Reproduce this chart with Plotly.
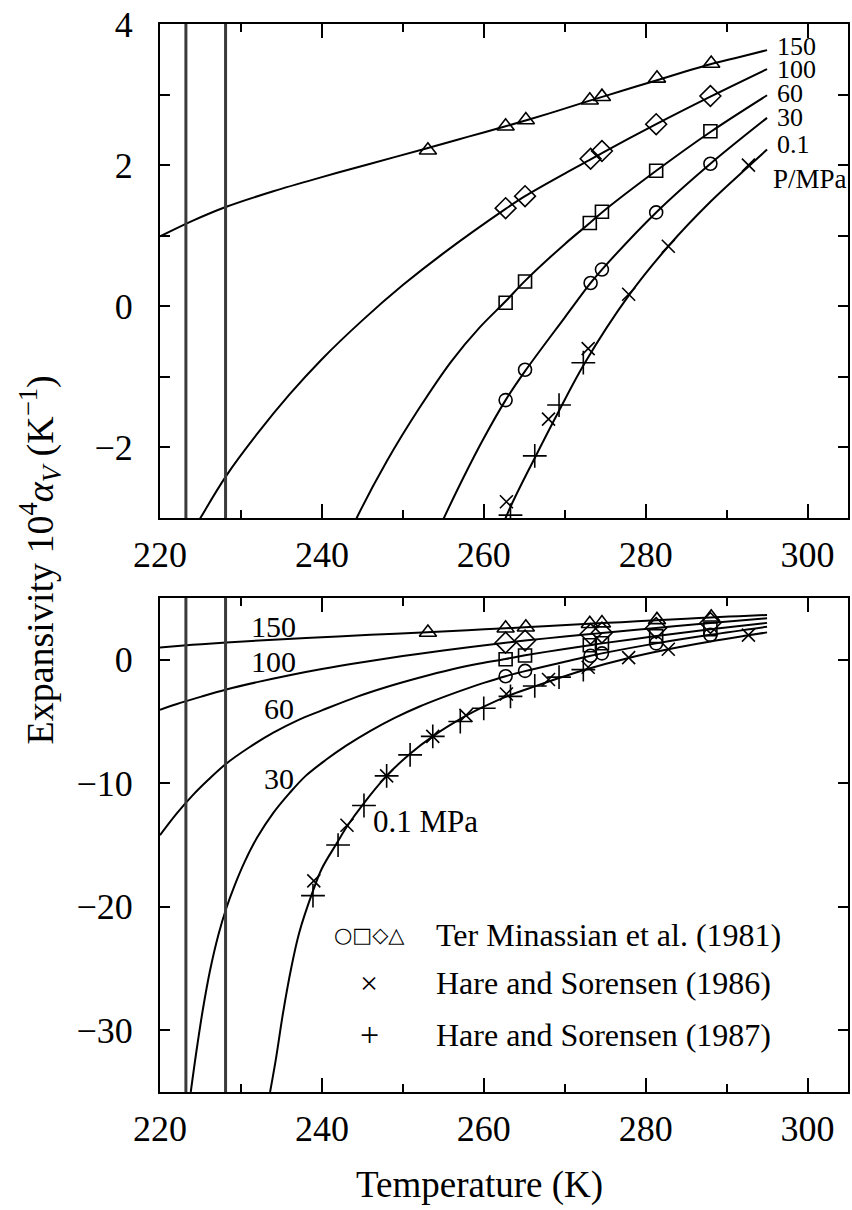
import plotly.graph_objects as go

# ---------------- data ----------------
# fitted curves, expansivity 1e4*alpha_V (1/K) vs temperature (K)
T150 = [220, 224, 228.2, 234, 240, 246, 253, 258, 262.7, 268, 273, 277, 281.3, 285, 288, 291.5, 295]
A150 = [0.99, 1.21, 1.41, 1.63, 1.83, 2.02, 2.24, 2.40, 2.55, 2.73, 2.91, 3.05, 3.20, 3.33, 3.43, 3.53, 3.63]

T100 = [220, 222, 225.1, 228.2, 232, 236, 240, 245, 250, 255, 262.7, 265.1, 270, 273.2, 274.6, 281.3, 288, 295]
A100 = [-4.05, -3.6, -2.98, -2.40, -1.81, -1.25, -0.75, -0.2, 0.3, 0.75, 1.38, 1.56, 1.88, 2.08, 2.17, 2.58, 2.97, 3.36]

T60 = [220, 222, 224, 226, 228.2, 231, 234, 237, 240, 244.3, 248, 252, 256, 259.5, 262.7, 265.1, 270, 273.1, 274.6, 281.3, 288, 295]
A60 = [-14.2, -12.5, -11.0, -9.7, -8.4, -7.1, -5.9, -4.9, -4.1, -3.0, -2.2, -1.45, -0.78, -0.3, 0.07, 0.36, 0.88, 1.18, 1.33, 1.92, 2.47, 2.99]

T30 = [223.8, 224.5, 225.3, 226.2, 227.2, 228.2, 229.2, 230.5, 232, 234, 236, 238, 240.5, 243, 246, 249, 252, 255, 258, 260, 262.7, 265.1, 270, 273.2, 274.6, 281.3, 288, 295]
A30 = [-35, -31.7, -28.3, -25.1, -22.3, -20.1, -18.3, -16.3, -14.4, -12.4, -10.8, -9.4, -8.1, -6.95, -5.75, -4.7, -3.8, -3.02, -2.31, -1.87, -1.33, -0.92, -0.16, 0.33, 0.52, 1.33, 2.02, 2.67]

T01 = [233.6, 234.3, 235.2, 236.2, 237.2, 238.8, 240, 241.8, 243.1, 245.2, 248, 250.9, 253.7, 257.5, 260, 263, 266.3, 269.3, 272.5, 277.9, 282.8, 288, 292.7, 295]
A01 = [-35, -32.4, -28.6, -25.0, -22.1, -18.9, -16.9, -14.9, -13.5, -11.6, -9.4, -7.6, -6.2, -4.65, -3.8, -2.92, -2.15, -1.48, -0.80, 0.15, 0.85, 1.48, 1.98, 2.22]

# Ter Minassian et al. (1981)
TM150_T = [253.1, 262.7, 265.2, 273.1, 274.6, 281.4, 288.1]
TM150_A = [2.21, 2.55, 2.64, 2.92, 2.97, 3.23, 3.44]
TM100_T = [262.7, 265.1, 273.2, 274.6, 281.3, 288.0]
TM100_A = [1.39, 1.56, 2.09, 2.20, 2.58, 2.98]
TM60_T = [262.7, 265.1, 273.1, 274.6, 281.3, 288.0]
TM60_A = [0.05, 0.35, 1.18, 1.34, 1.92, 2.48]
TM30_T = [262.7, 265.1, 273.2, 274.6, 281.3, 288.0]
TM30_A = [-1.33, -0.90, 0.33, 0.52, 1.33, 2.02]

# Hare and Sorensen (1986), 0.1 MPa
HS86_T = [239.0, 243.1, 248.0, 253.7, 257.8, 262.8, 268.0, 272.9, 277.9, 282.8, 292.7]
HS86_A = [-17.9, -13.4, -9.4, -6.2, -4.5, -2.77, -1.6, -0.6, 0.17, 0.85, 2.0]

# Hare and Sorensen (1987), 0.1 MPa
HS87_T = [238.9, 242.0, 245.2, 248.0, 250.9, 253.7, 257.1, 260.0, 263.3, 266.3, 269.3, 272.3]
HS87_A = [-19.1, -15.0, -11.8, -9.4, -7.7, -6.2, -5.0, -3.93, -2.96, -2.12, -1.40, -0.80]

# singular temperatures (vertical lines)
TS = [223.2, 228.1]

PRESSURE_LABELS = ["150", "100", "60", "30", "0.1"]

# ---------------- figure ----------------
SERIF = "Liberation Serif, Times New Roman, serif"
fig = go.Figure()

curves = [(T150, A150), (T100, A100), (T60, A60), (T30, A30), (T01, A01)]
markers = [
    (TM150_T, TM150_A, "triangle-up-open", 15),
    (TM100_T, TM100_A, "diamond-open", 16),
    (TM60_T, TM60_A, "square-open", 13),
    (TM30_T, TM30_A, "circle-open", 13),
    (HS86_T, HS86_A, "x-thin-open", 13),
    (HS87_T, HS87_A, "cross-thin-open", 17),
]

for xa, ya in (("x", "y"), ("x2", "y2")):
    for tx, ay in curves:
        fig.add_trace(go.Scatter(x=tx, y=ay, mode="lines", xaxis=xa, yaxis=ya,
                                 line=dict(color="black", width=2, shape="spline"),
                                 showlegend=False, hoverinfo="skip"))
    for tx, ay, sym, sz in markers:
        fig.add_trace(go.Scatter(x=tx, y=ay, mode="markers", xaxis=xa, yaxis=ya,
                                 marker=dict(symbol=sym, size=sz, color="black",
                                             line=dict(color="black", width=1.6)),
                                 showlegend=False))
    for t in TS:
        fig.add_shape(type="line", x0=t, x1=t, xref=xa, y0=0, y1=1,
                      yref=ya + " domain", line=dict(color="#3a3a3a", width=3), layer="above")

tickfont = dict(family=SERIF, size=36, color="black")
xcommon = dict(range=[220, 305], tick0=220, dtick=20, ticks="inside", ticklen=14, tickwidth=1.6,
               tickcolor="black", showline=True, linecolor="black", linewidth=2, mirror="allticks",
               showgrid=False, zeroline=False, tickfont=tickfont, ticklabelstandoff=4,
               minor=dict(dtick=10, ticks="inside", ticklen=8, tickwidth=1.6, tickcolor="black", showgrid=False))
ycommon = dict(ticks="inside", ticklen=10, tickwidth=1.6, tickcolor="black", showline=True,
               linecolor="black", linewidth=2, mirror="allticks", showgrid=False, zeroline=False,
               tickfont=tickfont, ticklabelstandoff=18)

fig.update_layout(
    width=852, height=1210,
    margin=dict(l=160, r=2, t=24, b=118),
    paper_bgcolor="white", plot_bgcolor="white",
    font=dict(family=SERIF, color="black"),
    xaxis=dict(domain=[0, 1], anchor="y", **xcommon),
    yaxis=dict(domain=[0.5375, 1], anchor="x", range=[-3, 4], tick0=0, dtick=2,
               minor=dict(dtick=1, ticks="inside", ticklen=10, tickwidth=1.6, tickcolor="black", showgrid=False),
               **ycommon),
    xaxis2=dict(domain=[0, 1], anchor="y2", **xcommon),
    yaxis2=dict(domain=[0, 0.4625], anchor="x2", range=[-35, 5], tick0=0, dtick=10, **ycommon),
)

ann = []
# pressure labels, top panel
top_lab_y = [3.68, 3.35, 3.01, 2.67, 2.29]
for lab, yv in zip(PRESSURE_LABELS, top_lab_y):
    ann.append(dict(x=296.0, y=yv, xref="x", yref="y", text=lab, showarrow=False,
                    xanchor="left", yanchor="middle", font=dict(family=SERIF, size=26)))
ann.append(dict(x=295.5, y=1.80, xref="x", yref="y", text="P/MPa", showarrow=False,
                xanchor="left", yanchor="middle", font=dict(family=SERIF, size=27)))
# pressure labels, bottom panel
bot_lab = [(234.0, 2.73), (234.0, -0.10), (234.7, -3.95), (234.7, -9.6)]
for lab, (xv, yv) in zip(PRESSURE_LABELS[:4], bot_lab):
    ann.append(dict(x=xv, y=yv, xref="x2", yref="y2", text=lab, showarrow=False,
                    xanchor="center", yanchor="middle", font=dict(family=SERIF, size=30)))
ann.append(dict(x=246.1, y=-13.1, xref="x2", yref="y2", text="0.1 MPa", showarrow=False,
                xanchor="left", yanchor="middle", font=dict(family=SERIF, size=31)))
# legend
leg_rows = [("○□◇△", "Ter Minassian et al. (1981)", 0.147, "DejaVu Sans", 21),
            ("×", "Hare and Sorensen (1986)", 0.102, SERIF, 32),
            ("+", "Hare and Sorensen (1987)", 0.0534, SERIF, 34)]
for sym, txt, yp, fam, fs in leg_rows:
    ann.append(dict(x=0.3043, y=yp, xref="paper", yref="paper", text=sym, showarrow=False,
                    xanchor="center", yanchor="middle", font=dict(family=fam, size=fs)))
    ann.append(dict(x=0.3986, y=yp, xref="paper", yref="paper", text=txt, showarrow=False,
                    xanchor="left", yanchor="middle", font=dict(family=SERIF, size=32)))
# axis titles
ann.append(dict(x=0.465, y=-0.0871, xref="paper", yref="paper", text="Temperature (K)",
                showarrow=False, xanchor="center", yanchor="middle", font=dict(family=SERIF, size=37)))
ann.append(dict(x=-0.1739, y=0.498, xref="paper", yref="paper",
                text="Expansivity 10<sup>4</sup><i>α</i><sub><i>V</i></sub> (K<sup>−1</sup>)",
                showarrow=False, textangle=-90, xanchor="center", yanchor="middle",
                font=dict(family=SERIF, size=38)))
fig.update_layout(annotations=ann)

fig.write_html("out.html")
